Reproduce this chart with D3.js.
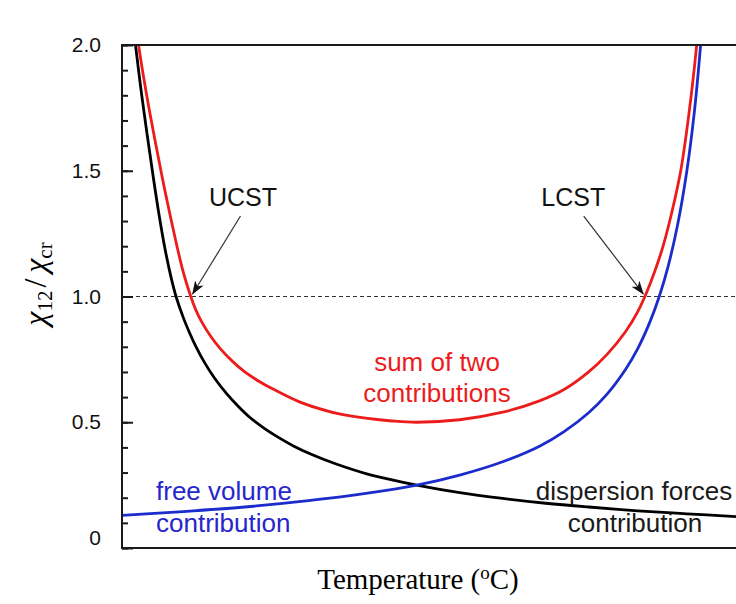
<!DOCTYPE html>
<html lang="en">
<head>
  <meta charset="UTF-8" />
  <title>UCST / LCST</title>
  <script src="https://d3js.org/d3.v7.min.js"></script>
  <style>
    body {
      margin: 0;
      padding: 0;
      background-color: white;
    }

    .lbl {
      font-family: "Liberation Sans", Arial, sans-serif;
      font-size: 26px;
    }

    .axis-title {
      font-family: "Liberation Serif", "Times New Roman", serif;
      fill: black;
    }

    .tick text {
      font-family: "Liberation Sans", Arial, sans-serif;
      font-size: 21px;
      fill: #111;
    }
  </style>
</head>
<body>
  <svg id="chart" width="736" height="604"></svg>

  <script>
    // temperature (arbitrary units, 0-100 across the visible plot) vs chi12/chi_cr
    const dispT   = [0, 1, 2.1, 3, 4, 5, 6, 7, 8, 8.8, 10, 11, 12, 13.5, 15, 17, 19, 20.8, 23, 25, 28, 31, 35, 40, 44, 48, 55, 62, 69, 76, 84, 92, 100];
    const dispVal = [2.45, 2.23, 2.02, 1.84, 1.66, 1.49, 1.33, 1.19, 1.075, 1.0, 0.915, 0.856, 0.803, 0.735, 0.678, 0.615, 0.562, 0.52, 0.479, 0.447, 0.405, 0.371, 0.333, 0.294, 0.271, 0.25, 0.22, 0.197, 0.178, 0.163, 0.148, 0.136, 0.125];

    const freeT   = [0, 10, 20, 30, 40, 48, 55, 62, 68, 72, 76, 79, 82, 84, 86, 87.5, 89, 90.5, 92, 93.2, 94.2, 95];
    const freeVal = [0.13, 0.145, 0.163, 0.187, 0.218, 0.25, 0.29, 0.343, 0.405, 0.463, 0.538, 0.612, 0.71, 0.793, 0.90, 1.0, 1.125, 1.286, 1.50, 1.73, 1.99, 2.25];

    const sumT    = [0, 1.5, 2.7, 3.5, 4.5, 5.5, 6.3, 7, 8, 9, 10, 11.2, 12, 13, 14.5, 16, 18, 20, 22.5, 25, 29, 32, 35, 40, 44, 48, 55, 62, 68, 72, 76, 79, 82, 84, 86, 88, 89.5, 91, 92.3, 93.6, 94.5];
    const sumVal  = [2.5, 2.22, 2.0, 1.875, 1.735, 1.605, 1.505, 1.42, 1.305, 1.195, 1.095, 1.0, 0.948, 0.898, 0.84, 0.793, 0.742, 0.70, 0.66, 0.627, 0.58, 0.555, 0.535, 0.515, 0.505, 0.50, 0.51, 0.54, 0.585, 0.63, 0.70, 0.77, 0.86, 0.94, 1.05, 1.19, 1.33, 1.50, 1.72, 2.0, 2.25];

    const majorTicks = [0, 0.5, 1.0, 1.5, 2.0];
    const minorTicks = d3.range(0, 21).map(d => d / 10);

    const ucstT = 11.2;  // where the sum curve crosses 1
    const lcstT = 85;

    const plotLeft = 122, plotRight = 736, plotTop = 45, plotBottom = 548;

    const svg = d3.select("#chart");

    const x = d3.scaleLinear().domain([0, 100]).range([plotLeft, plotRight]);
    const y = d3.scaleLinear().domain([0, 2]).range([plotBottom, plotTop]);

    const defs = svg.append("defs");
    defs.append("clipPath")
      .attr("id", "plot-clip")
      .append("rect")
      .attr("x", plotLeft)
      .attr("y", plotTop)
      .attr("width", plotRight - plotLeft + 40)
      .attr("height", plotBottom - plotTop);

    const marker = defs.append("marker")
      .attr("id", "arrow")
      .attr("viewBox", "0 0 14 10")
      .attr("refX", 13)
      .attr("refY", 5)
      .attr("markerWidth", 14)
      .attr("markerHeight", 10)
      .attr("markerUnits", "userSpaceOnUse")
      .attr("orient", "auto");
    marker.append("path")
      .attr("d", "M0,0 L14,5 L0,10 L4,5 Z")
      .attr("fill", "#111");

    // reference line at 1
    svg.append("line")
      .attr("x1", plotLeft)
      .attr("x2", plotRight)
      .attr("y1", y(1))
      .attr("y2", y(1))
      .attr("stroke", "#333")
      .attr("stroke-width", 1)
      .attr("stroke-dasharray", "4,3");

    const line = d3.line()
      .x(d => x(d[0]))
      .y(d => y(d[1]))
      .curve(d3.curveCatmullRom.alpha(0.5));

    const series = [
      { t: dispT, v: dispVal, color: "#000000" },
      { t: freeT, v: freeVal, color: "#1c2ccc" },
      { t: sumT,  v: sumVal,  color: "#ec1c1c" }
    ];

    const plot = svg.append("g").attr("clip-path", "url(#plot-clip)");
    plot.selectAll(".curve")
      .data(series)
      .join("path")
      .attr("class", "curve")
      .attr("fill", "none")
      .attr("stroke", d => d.color)
      .attr("stroke-width", 2.8)
      .attr("d", d => line(d.t.map((t, i) => [t, d.v[i]])));

    // frame (right side lies past the window edge)
    svg.append("path")
      .attr("d", `M${plotRight + 10},${plotTop} H${plotLeft} V${plotBottom} H${plotRight + 10}`)
      .attr("fill", "none")
      .attr("stroke", "#1a1a1a")
      .attr("stroke-width", 2);

    // y axis, ticks pointing inward
    svg.append("g")
      .attr("transform", `translate(${plotLeft},0)`)
      .call(d3.axisLeft(y).tickValues(minorTicks).tickSize(-6).tickFormat(""))
      .call(g => g.select(".domain").remove())
      .call(g => g.selectAll("line").attr("stroke", "#1a1a1a").attr("stroke-width", 2));

    svg.append("g")
      .attr("transform", `translate(${plotLeft},0)`)
      .call(d3.axisLeft(y).tickValues(majorTicks).tickSize(-11).tickPadding(21)
        .tickFormat(d => d === 0 ? "0" : d3.format(".1f")(d)))
      .call(g => g.select(".domain").remove())
      .call(g => g.selectAll("line").attr("stroke", "#1a1a1a").attr("stroke-width", 2))
      .call(g => g.selectAll("text").attr("dy", d => d === 0 ? "-0.15em" : "0.32em"));

    // annotations
    const arrows = [
      { label: "UCST", tx: 19.7, ty: 1.36, x1: 19.3, y1: 1.32, x2: ucstT + 0.3, y2: 1.01 },
      { label: "LCST", tx: 73.5, ty: 1.36, x1: 75.2, y1: 1.32, x2: lcstT - 0.1, y2: 1.01 }
    ];

    svg.selectAll(".arrow")
      .data(arrows)
      .join("line")
      .attr("class", "arrow")
      .attr("x1", d => x(d.x1))
      .attr("y1", d => y(d.y1))
      .attr("x2", d => x(d.x2))
      .attr("y2", d => y(d.y2))
      .attr("stroke", "#333")
      .attr("stroke-width", 1.2)
      .attr("marker-end", "url(#arrow)");

    svg.selectAll(".arrow-label")
      .data(arrows)
      .join("text")
      .attr("class", "lbl arrow-label")
      .attr("x", d => x(d.tx))
      .attr("y", d => y(d.ty))
      .attr("text-anchor", "middle")
      .style("font-size", "25px")
      .attr("fill", "#111")
      .text(d => d.label);

    const sumLabel = svg.append("text")
      .attr("class", "lbl")
      .attr("fill", "#ec1c1c")
      .attr("text-anchor", "middle");
    sumLabel.append("tspan").attr("x", 437).attr("y", 371).text("sum of two");
    sumLabel.append("tspan").attr("x", 437).attr("y", 402).text("contributions");

    const freeLabel = svg.append("text")
      .attr("class", "lbl")
      .attr("fill", "#2626cc");
    freeLabel.append("tspan").attr("x", 156).attr("y", 500).text("free volume");
    freeLabel.append("tspan").attr("x", 156).attr("y", 532).text("contribution");

    const dispLabel = svg.append("text")
      .attr("class", "lbl")
      .attr("fill", "#1a1a1a")
      .attr("text-anchor", "middle");
    dispLabel.append("tspan").attr("x", 634).attr("y", 500).text("dispersion forces");
    dispLabel.append("tspan").attr("x", 635).attr("y", 532).text("contribution");

    // axis titles
    const xTitle = svg.append("text")
      .attr("class", "axis-title")
      .attr("x", 418)
      .attr("y", 589)
      .attr("text-anchor", "middle")
      .style("font-size", "29px");
    xTitle.append("tspan").text("Temperature (");
    xTitle.append("tspan").attr("dy", "-10px").style("font-size", "19px").text("o");
    xTitle.append("tspan").attr("dy", "10px").text("C)");

    const yTitle = svg.append("text")
      .attr("class", "axis-title")
      .attr("transform", "translate(46,284) rotate(-90)")
      .attr("text-anchor", "middle")
      .style("font-size", "32px");
    yTitle.append("tspan").style("font-style", "italic").text("χ");
    yTitle.append("tspan").attr("dy", "6px").style("font-size", "21px").text("12");
    yTitle.append("tspan").attr("dy", "-6px").attr("dx", "3px").text("/");
    yTitle.append("tspan").attr("dx", "6px").style("font-style", "italic").text("χ");
    yTitle.append("tspan").attr("dy", "6px").style("font-size", "21px").text("cr");
  </script>
</body>
</html>
